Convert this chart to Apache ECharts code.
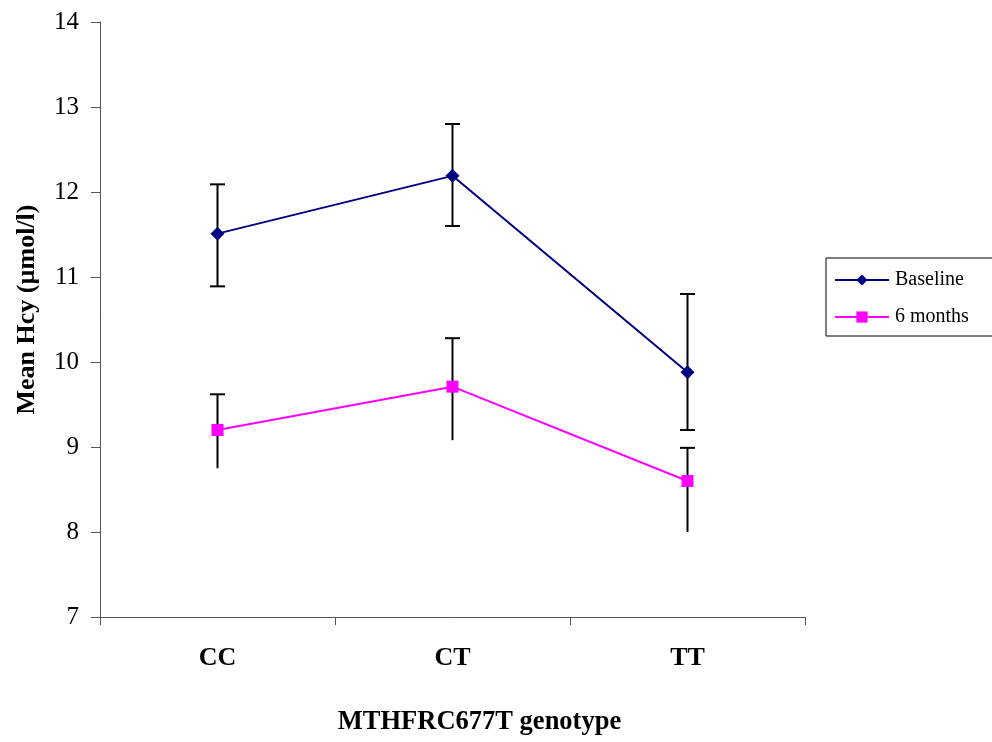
<!DOCTYPE html>
<html>
<head>
<meta charset="utf-8">
<script src="https://cdn.jsdelivr.net/npm/echarts@6/dist/echarts.min.js"></script>
<style>html,body{margin:0;padding:0;background:#fff;}#c{width:992px;height:742px;}</style>
</head>
<body>
<div id="c"></div>
<script>
const categories = ['CC', 'CT', 'TT'];
const yTicks = [7, 8, 9, 10, 11, 12, 13, 14];
const baseline = [11.51, 12.19, 9.88];
const baselineUpper = [12.09, 12.80, 10.80];
const baselineLower = [10.89, 11.60, 9.20];
const months6 = [9.20, 9.71, 8.60];
const months6Upper = [9.62, 10.28, 8.99];
const months6Lower = [8.75, 9.08, 8.00];

const FONT = '"Liberation Serif", "Times New Roman", serif';

function errData(lower, upper) {
  return categories.map((c, i) => [i, lower[i], upper[i]]);
}
function makeErr(bottomCap) {
  return function (params, api) {
    const i = api.value(0);
    const lo = api.coord([i, api.value(1)]);
    const hi = api.coord([i, api.value(2)]);
    const hw = 7.5;
    const style = { stroke: '#000', lineWidth: 2 };
    const children = [
      { type: 'line', shape: { x1: hi[0], y1: hi[1], x2: lo[0], y2: lo[1] }, style },
      { type: 'line', shape: { x1: hi[0] - hw, y1: hi[1], x2: hi[0] + hw, y2: hi[1] }, style }
    ];
    if (bottomCap) {
      children.push({ type: 'line', shape: { x1: lo[0] - hw, y1: lo[1], x2: lo[0] + hw, y2: lo[1] }, style });
    }
    return { type: 'group', children };
  };
}

const chart = echarts.init(document.getElementById('c'), null, { renderer: 'canvas' });
chart.setOption({
  animation: false,
  backgroundColor: '#fff',
  grid: { left: 100, right: 187, top: 22, bottom: 125, containLabel: false },
  legend: {
    orient: 'vertical',
    left: 826,
    top: 258,
    padding: [12, 40, 9, 8],
    borderColor: '#000',
    borderWidth: 1,
    itemWidth: 54,
    itemHeight: 14,
    itemGap: 17,
    textStyle: { fontFamily: FONT, fontSize: 20, color: '#000', padding: [0, 0, 0, 1] },
    data: ['Baseline', '6 months']
  },
  xAxis: {
    type: 'category',
    data: categories,
    boundaryGap: true,
    name: 'MTHFRC677T genotype',
    nameLocation: 'middle',
    nameGap: 92,
    nameTextStyle: { fontFamily: FONT, fontSize: 26.5, fontWeight: 'bold', color: '#000', padding: [0, 0, 0, 54] },
    axisLine: { lineStyle: { color: '#555', width: 1 } },
    axisTick: { show: true, length: 8, alignWithLabel: false, lineStyle: { color: '#555' } },
    axisLabel: { fontFamily: FONT, fontSize: 26, fontWeight: 'bold', color: '#000', margin: 28 },
    splitLine: { show: false }
  },
  yAxis: {
    type: 'value',
    min: yTicks[0],
    max: yTicks[yTicks.length - 1],
    interval: 1,
    name: 'Mean Hcy (µmol/l)',
    nameLocation: 'middle',
    nameGap: 60,
    nameTextStyle: { fontFamily: FONT, fontSize: 26, fontWeight: 'bold', color: '#000', padding: [0, 0, 0, 20] },
    axisLine: { show: true, lineStyle: { color: '#555', width: 1 } },
    axisTick: { show: true, length: 9, lineStyle: { color: '#555' } },
    axisLabel: { fontFamily: FONT, fontSize: 25, color: '#000', margin: 21 },
    splitLine: { show: false }
  },
  series: [
    {
      name: 'BaselineErr',
      type: 'custom',
      renderItem: makeErr(true),
      data: errData(baselineLower, baselineUpper),
      z: 1,
      silent: true
    },
    {
      name: '6monthsErr',
      type: 'custom',
      renderItem: makeErr(false),
      data: errData(months6Lower, months6Upper),
      z: 1,
      silent: true
    },
    {
      name: 'Baseline',
      type: 'line',
      data: baseline,
      symbol: 'diamond',
      symbolSize: [14, 14],
      color: '#000080',
      lineStyle: { color: '#000080', width: 2 },
      itemStyle: { color: '#000080' },
      z: 3
    },
    {
      name: '6 months',
      type: 'line',
      data: months6,
      symbol: 'rect',
      symbolSize: [12, 12],
      color: '#FF00FF',
      lineStyle: { color: '#FF00FF', width: 2 },
      itemStyle: { color: '#FF00FF' },
      z: 3
    }
  ]
});
</script>
</body>
</html>
